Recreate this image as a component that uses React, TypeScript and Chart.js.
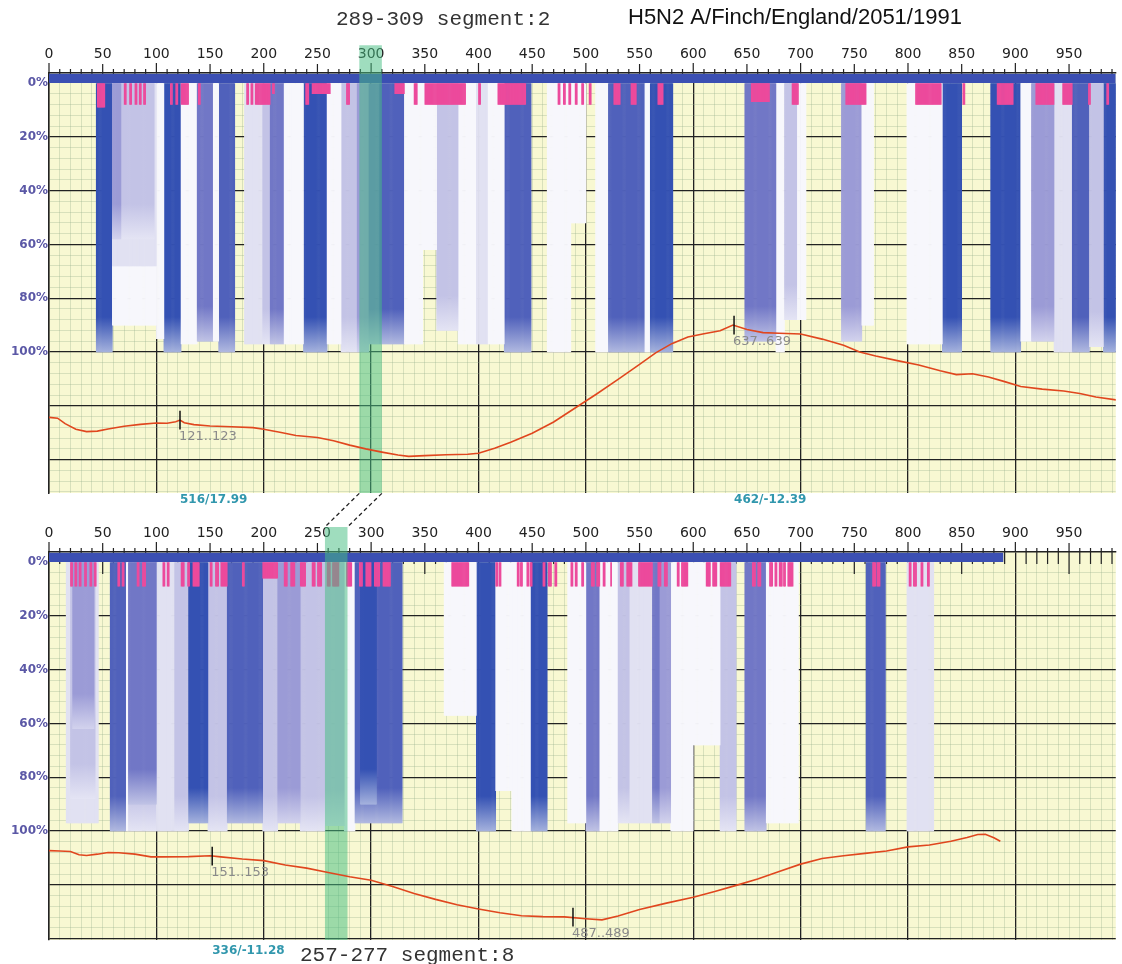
import React, { useEffect, useRef } from 'react';
import { Chart, registerables } from 'chart.js';

Chart.register(...registerables);

// ================= DATA =================
const xTickStep = 10;
const xLabelStep = 50;
const xMajorStep = 100;
const yMinorStep = 4;
const yMajorStep = 20;
const yLabelMax = 100;

// ---------- upper panel ----------
const upperSegmentLabel = '289-309 segment:2';
const strainLabel = 'H5N2 A/Finch/England/2051/1991';
const upperWindow = [289, 309];
const upperSequenceEnd = 994;

const upperBlockStart = [44, 59, 59, 59, 59, 100, 107, 123, 138, 153, 158, 182, 199, 206, 219, 237, 259, 272, 287, 298, 308, 331, 348, 361, 381, 398, 409, 424, 464, 486, 509, 521, 555, 560, 648, 677, 685, 697, 738, 757, 799, 832, 877, 905, 915, 936, 953, 969, 982];
const upperBlockEnd = [59, 100, 100, 98, 67, 107, 123, 138, 153, 158, 173, 199, 206, 219, 237, 259, 272, 287, 298, 308, 331, 348, 361, 381, 398, 409, 424, 449, 486, 500, 521, 555, 560, 581, 677, 685, 697, 705, 757, 768, 832, 850, 905, 915, 936, 953, 969, 982, 994];
const upperBlockDepth = [100, 90, 68, 58, 58, 95, 100, 97, 96, 96, 100, 97, 97, 97, 97, 100, 97, 100, 100, 97, 97, 97, 62, 92, 97, 97, 97, 100, 100, 52, 100, 100, 100, 100, 96, 100, 88, 88, 96, 90, 97, 100, 100, 96, 96, 100, 100, 98, 100];
const upperBlockShade = [0, 6, 5, 4, 3, 6, 0, 6, 2, 6, 1, 5, 4, 2, 6, 0, 6, 4, 3, 2, 1, 6, 6, 4, 6, 5, 6, 1, 6, 6, 6, 1, 6, 0, 2, 6, 4, 6, 3, 6, 6, 0, 0, 6, 3, 5, 1, 4, 0];

const upperPinkStart = [45, 70, 75, 80, 84, 88, 113, 118, 123, 139, 184, 188, 192, 208, 239, 245, 277, 322, 340, 350, 400, 418, 474, 479, 484, 490, 496, 503, 526, 542, 567, 654, 692, 742, 807, 851, 883, 919, 944, 968, 985];
const upperPinkEnd = [52, 72, 77, 82, 86, 90, 115, 120, 130, 141, 186, 190, 206, 210, 242, 262, 280, 331, 343, 388, 402, 444, 476, 481, 486, 492, 498, 505, 532, 547, 572, 671, 698, 761, 831, 853, 898, 936, 953, 970, 987];
const upperPinkDepth = [9, 8, 8, 8, 8, 8, 8, 8, 8, 8, 8, 8, 8, 4, 8, 4, 8, 4, 8, 8, 8, 8, 8, 8, 8, 8, 8, 8, 8, 8, 8, 7, 8, 8, 8, 8, 8, 8, 8, 8, 8];

const upperLineX = [0, 8, 15, 25, 35, 45, 55, 70, 85, 100, 110, 118, 122, 126, 135, 150, 170, 190, 200, 215, 230, 250, 265, 280, 295, 310, 325, 335, 350, 370, 390, 400, 415, 430, 450, 470, 490, 510, 530, 550, 565, 580, 595, 610, 625, 637, 650, 665, 680, 700, 720, 740, 755, 770, 790, 810, 830, 845, 860, 875, 890, 905, 925, 945, 960, 975, 994];
const upperLineY = [124.3, 124.6, 126.6, 128.7, 129.6, 129.4, 128.6, 127.6, 126.9, 126.4, 126.5, 125.9, 125.3, 126.3, 127.0, 127.5, 127.8, 128.1, 128.7, 129.8, 131.0, 131.8, 133.0, 134.6, 136.0, 137.2, 138.3, 138.8, 138.5, 138.2, 138.0, 137.6, 135.8, 133.5, 130.2, 126.0, 120.8, 115.6, 110.2, 104.6, 100.3, 96.9, 94.4, 93.2, 92.1, 90.0, 91.6, 92.8, 93.0, 93.3, 95.2, 97.5, 100.0, 101.5, 103.2, 104.8, 107.0, 108.4, 108.1, 109.3, 111.0, 112.8, 113.8, 114.5, 115.4, 116.7, 117.8];

const upperMarkerPos = [122, 638];
const upperMarkerY = [125.3, 90.0];
const upperMarkerLabel = ['121..123', '637..639'];
const upperScorePos = [122, 638];
const upperScoreLabel = ['516/17.99', '462/-12.39'];

// ---------- lower panel ----------
const lowerSegmentLabel = '257-277 segment:8';
const lowerWindow = [257, 277];
const lowerSequenceEnd = 889;

const lowerBlockStart = [16, 20, 22, 57, 72, 74, 74, 100, 117, 130, 148, 166, 199, 213, 234, 257, 275, 285, 290, 368, 398, 416, 431, 449, 483, 500, 513, 530, 541, 562, 569, 579, 600, 625, 648, 668, 761, 799];
const lowerBlockEnd = [46, 43, 42, 72, 74, 100, 100, 117, 130, 148, 166, 199, 213, 234, 257, 275, 285, 329, 305, 398, 416, 431, 449, 464, 500, 513, 530, 541, 562, 569, 579, 600, 625, 640, 668, 698, 779, 824];
const lowerBlockDepth = [97, 88, 62, 100, 100, 100, 90, 100, 100, 97, 100, 97, 100, 97, 100, 98, 100, 97, 90, 57, 100, 85, 100, 100, 97, 100, 100, 97, 97, 97, 97, 100, 68, 100, 100, 97, 100, 100];
const lowerBlockShade = [5, 4, 3, 1, 6, 4, 2, 5, 4, 0, 4, 1, 4, 3, 4, 4, 6, 1, 0, 6, 0, 6, 6, 0, 6, 2, 6, 4, 5, 2, 3, 6, 6, 4, 2, 6, 1, 5];

const lowerPinkStart = [20, 24, 28, 33, 38, 42, 64, 68, 82, 87, 106, 110, 123, 129, 134, 150, 155, 160, 180, 199, 219, 225, 234, 245, 250, 259, 264, 277, 289, 295, 303, 311, 375, 416, 419, 436, 439, 445, 448, 460, 465, 471, 486, 490, 496, 505, 510, 516, 523, 532, 538, 549, 567, 573, 585, 589, 612, 618, 625, 655, 660, 671, 676, 680, 684, 688, 767, 771, 801, 805, 812, 818];
const lowerPinkEnd = [22, 26, 30, 35, 40, 44, 66, 70, 84, 90, 108, 112, 126, 131, 140, 152, 158, 166, 182, 213, 222, 229, 239, 248, 254, 262, 270, 282, 292, 300, 308, 318, 391, 418, 421, 438, 441, 447, 450, 462, 468, 473, 488, 492, 498, 508, 513, 518, 524, 535, 543, 562, 570, 576, 587, 595, 616, 622, 635, 658, 663, 674, 678, 683, 686, 693, 770, 774, 803, 808, 814, 820];
const lowerPinkDepth = [9, 9, 9, 9, 9, 9, 9, 9, 9, 9, 9, 9, 9, 9, 9, 9, 9, 9, 9, 6, 9, 9, 9, 9, 9, 9, 9, 9, 9, 9, 9, 9, 9, 9, 9, 9, 9, 9, 9, 9, 9, 9, 9, 9, 9, 9, 9, 9, 9, 9, 9, 9, 9, 9, 9, 9, 9, 9, 9, 9, 9, 9, 9, 9, 9, 9, 9, 9, 9, 9, 9, 9];

const lowerLineX = [0, 10, 20, 28, 35, 45, 55, 65, 80, 95, 105, 130, 150, 160, 180, 200, 220, 240, 260, 280, 300, 320, 340, 360, 380, 400, 420, 440, 460, 480, 500, 515, 530, 550, 575, 600, 620, 640, 660, 680, 700, 720, 740, 760, 780, 800, 820, 840, 855, 865, 872, 880, 886];
const lowerLineY = [107.3, 107.4, 107.6, 108.8, 109.1, 108.6, 108.0, 108.1, 108.6, 109.6, 109.6, 109.5, 109.2, 109.6, 110.4, 111.0, 112.6, 113.8, 115.4, 117.0, 118.3, 120.6, 123.2, 125.4, 127.4, 129.0, 130.4, 131.5, 131.8, 131.9, 132.6, 133.0, 131.6, 129.2, 126.8, 124.6, 122.5, 120.2, 117.8, 115.0, 112.3, 110.2, 109.2, 108.3, 107.4, 105.9, 105.2, 103.8, 102.4, 101.3, 101.2, 102.5, 103.8];

const lowerMarkerPos = [152, 488];
const lowerMarkerY = [109.3, 132.0];
const lowerMarkerLabel = ['151..153', '487..489'];
const lowerScorePos = [152];
const lowerScoreLabel = ['336/-11.28'];

// ================= STYLE =================
const SHADES = ['#3451b3', '#5061bb', '#7177c6', '#9b9bd6', '#c3c3e6', '#e1e1f2', '#f7f7fc'];
const PINK = '#ec4a9c';
const STRIP = '#3b4fb3';
const BAND = 'rgba(70,190,130,0.52)';
const LINE = '#e0461e';
const YELLOW = '#f8f8d2';
const MINOR_GRID = 'rgba(150,175,140,0.32)';
const MAJOR_GRID = '#222';
const FADE_SPAN = 13;

const upperLayout = {
  top: 0, height: 512, xMax: 993.5, yMin: -3.7, yMax: 152.4, stripTop: -3.4,
  axisHeight: 73, axisWidth: 49, padBottom: 19, bandTop: -14,
  minorDown: 8, majorDown: 8, scoreOffset: 7,
  segX: 336, segY: 19, strainX: 628, strainY: 18, connectorTop: null, linkWindow: null,
};
const lowerLayout = {
  top: 479, height: 485, xMax: 993.5, yMin: -3.7, yMax: 140.5, stripTop: -3.4,
  axisHeight: 73, axisWidth: 49, padBottom: 24, bandTop: -13,
  minorDown: 12, majorDown: 22, scoreOffset: 11,
  segX: 300, segY: 476, strainX: 0, strainY: 0, connectorTop: -25.5, linkWindow: upperWindow,
};

const upperPanel = {
  segment: upperSegmentLabel, strain: strainLabel, window: upperWindow, seqEnd: upperSequenceEnd,
  blockStart: upperBlockStart, blockEnd: upperBlockEnd, blockDepth: upperBlockDepth, blockShade: upperBlockShade,
  pinkStart: upperPinkStart, pinkEnd: upperPinkEnd, pinkDepth: upperPinkDepth,
  lineX: upperLineX, lineY: upperLineY,
  markerPos: upperMarkerPos, markerY: upperMarkerY, markerLabel: upperMarkerLabel,
  scorePos: upperScorePos, scoreLabel: upperScoreLabel,
};
const lowerPanel = {
  segment: lowerSegmentLabel, strain: '', window: lowerWindow, seqEnd: lowerSequenceEnd,
  blockStart: lowerBlockStart, blockEnd: lowerBlockEnd, blockDepth: lowerBlockDepth, blockShade: lowerBlockShade,
  pinkStart: lowerPinkStart, pinkEnd: lowerPinkEnd, pinkDepth: lowerPinkDepth,
  lineX: lowerLineX, lineY: lowerLineY,
  markerPos: lowerMarkerPos, markerY: lowerMarkerY, markerLabel: lowerMarkerLabel,
  scorePos: lowerScorePos, scoreLabel: lowerScoreLabel,
};

function mixWhite(hex: string, t: number) {
  const n = parseInt(hex.slice(1), 16);
  const r = (n >> 16) & 255, g = (n >> 8) & 255, b = n & 255;
  const m = (c: number) => Math.round(c * (1 - t) + 255 * t);
  return `rgb(${m(r)},${m(g)},${m(b)})`;
}

function buildChart(canvas: HTMLCanvasElement, p: any, L: any) {
  // expand blocks into per-position columns, deepest first so shallower ones sit on top
  const order = p.blockStart.map((_: any, i: number) => i).sort((a: number, b: number) => p.blockDepth[b] - p.blockDepth[a]);
  const blockData: any[] = [];
  const blockOf: number[] = [];
  order.forEach((i: number) => {
    for (let q = p.blockStart[i]; q < p.blockEnd[i]; q++) {
      blockData.push({ x: q + 0.5, y: [0, p.blockDepth[i]] });
      blockOf.push(i);
    }
  });
  const pinkData: any[] = [];
  p.pinkStart.forEach((s: number, i: number) => {
    for (let q = s; q < p.pinkEnd[i]; q++) pinkData.push({ x: q + 0.5, y: [0, p.pinkDepth[i]] });
  });

  const gradCache = new Map<number, any>();
  const blockColor = (ctx: any) => {
    const i = blockOf[ctx.dataIndex];
    if (i === undefined) return SHADES[6];
    const shade = p.blockShade[i];
    const base = SHADES[shade];
    const chart = ctx.chart;
    if (shade >= 5 || !chart.chartArea || !chart.scales.y) return base;
    let g = gradCache.get(i);
    if (!g) {
      const ys = chart.scales.y;
      const depth = p.blockDepth[i];
      const y0 = ys.getPixelForValue(0);
      const y1 = ys.getPixelForValue(depth);
      if (!isFinite(y0) || !isFinite(y1) || y1 === y0) return base;
      g = chart.ctx.createLinearGradient(0, y0, 0, y1);
      g.addColorStop(0, base);
      g.addColorStop(Math.max(0, (depth - FADE_SPAN) / depth), base);
      g.addColorStop(1, mixWhite(base, 0.55));
      gradCache.set(i, g);
    }
    return g;
  };

  const w0 = p.window[0];
  const w1 = p.window[1] + 1;

  const decor = {
    id: 'panelDecor',
    beforeDraw(chart: any) {
      const { ctx, chartArea: a } = chart;
      ctx.save();
      ctx.fillStyle = YELLOW;
      ctx.fillRect(a.left, a.top, a.right - a.left, a.bottom - a.top);
      ctx.restore();
    },
    beforeDatasetsDraw(chart: any) {
      const { ctx, chartArea: a } = chart;
      const xs = chart.scales.x;
      ctx.save();
      ctx.strokeStyle = '#222';
      ctx.lineWidth = 1.2;
      ctx.beginPath();
      for (let v = 0; v <= xs.max; v += xTickStep) {
        const x = xs.getPixelForValue(v);
        let up = 4, down = L.minorDown;
        if (v % xMajorStep === 0) { up = 10; down = 0; }
        else if (v % xLabelStep === 0) { up = 9; down = L.majorDown; }
        ctx.moveTo(x, a.top - up);
        ctx.lineTo(x, a.top + down);
      }
      ctx.stroke();
      ctx.restore();
    },
    afterDatasetsDraw(chart: any) {
      const { ctx } = chart;
      const xs = chart.scales.x, ys = chart.scales.y;
      ctx.save();
      p.markerPos.forEach((m: number, i: number) => {
        const x = xs.getPixelForValue(m);
        const yA = ys.getPixelForValue(p.markerY[i] - 3.5);
        const yB = ys.getPixelForValue(p.markerY[i] + 3.5);
        ctx.strokeStyle = '#111';
        ctx.lineWidth = 1.5;
        ctx.beginPath();
        ctx.moveTo(x, yA);
        ctx.lineTo(x, yB);
        ctx.stroke();
        ctx.fillStyle = '#8a8a8a';
        ctx.font = '13px "DejaVu Sans"';
        ctx.textBaseline = 'top';
        ctx.textAlign = 'left';
        ctx.fillText(p.markerLabel[i], x - 1, yB + 1);
      });
      ctx.restore();
    },
    afterDraw(chart: any) {
      const { ctx, chartArea: a } = chart;
      const xs = chart.scales.x, ys = chart.scales.y;
      ctx.save();
      // score labels
      ctx.font = 'bold 12px "DejaVu Sans"';
      ctx.fillStyle = '#3197ad';
      ctx.textBaseline = 'middle';
      ctx.textAlign = 'left';
      p.scorePos.forEach((s: number, i: number) => {
        ctx.fillText(p.scoreLabel[i], xs.getPixelForValue(s), a.bottom + L.scoreOffset);
      });
      // titles
      ctx.font = '21px "Liberation Mono"';
      ctx.fillStyle = '#333';
      ctx.fillText(p.segment, L.segX, L.segY);
      if (p.strain) {
        ctx.font = '22px "Liberation Sans"';
        ctx.fillStyle = '#111';
        ctx.fillText(p.strain, L.strainX, L.strainY);
      }
      // dashed connectors to the upper window
      if (L.linkWindow) {
        const yT = ys.getPixelForValue(L.connectorTop);
        const yB = ys.getPixelForValue(L.bandTop);
        ctx.strokeStyle = '#222';
        ctx.lineWidth = 1.3;
        ctx.setLineDash([4, 3]);
        ctx.beginPath();
        ctx.moveTo(xs.getPixelForValue(L.linkWindow[0]), yT);
        ctx.lineTo(xs.getPixelForValue(w0), yB);
        ctx.moveTo(xs.getPixelForValue(L.linkWindow[1] + 1), yT);
        ctx.lineTo(xs.getPixelForValue(w1), yB);
        ctx.stroke();
      }
      ctx.restore();
    },
  };

  const config: any = {
    type: 'bar',
    data: {
      datasets: [
        {
          type: 'line', label: 'score', order: 0,
          data: p.lineX.map((x: number, i: number) => ({ x, y: p.lineY[i] })),
          borderColor: LINE, borderWidth: 1.6, pointRadius: 0, tension: 0, fill: false,
        },
        {
          type: 'bar', label: 'window', order: 1, clip: false, inflateAmount: 0,
          data: [{ x: (w0 + w1) / 2, y: [L.bandTop, L.yMax] }],
          backgroundColor: BAND,
          barThickness: (ctx: any) => {
            const s = ctx.chart.scales.x;
            const t = s ? Math.abs(s.getPixelForValue(w1) - s.getPixelForValue(w0)) : NaN;
            return isFinite(t) && t > 0 ? t : 22;
          },
        },
        {
          type: 'bar', label: 'variable sites', order: 2,
          data: pinkData, backgroundColor: PINK,
        },
        {
          type: 'line', label: 'sequence', order: 3,
          data: [{ x: 0, y: L.stripTop }, { x: p.seqEnd, y: L.stripTop }],
          borderWidth: 0, borderColor: STRIP, backgroundColor: STRIP, pointRadius: 0,
          fill: { value: 0 },
        },
        {
          type: 'bar', label: 'coverage', order: 4,
          data: blockData, backgroundColor: blockColor,
        },
      ],
    },
    options: {
      responsive: false,
      maintainAspectRatio: false,
      animation: false,
      devicePixelRatio: 1,
      events: [],
      layout: { padding: { left: 0, right: 0, top: 0, bottom: L.padBottom } },
      datasets: { bar: { grouped: false, barPercentage: 1, categoryPercentage: 1, borderWidth: 0 } },
      plugins: { legend: { display: false }, tooltip: { enabled: false }, title: { display: false } },
      scales: {
        x: {
          type: 'linear', position: 'top', min: 0, max: L.xMax, offset: false,
          afterFit: (s: any) => { s.height = L.axisHeight; },
          grid: {
            offset: false, drawTicks: false,
            color: (c: any) => (c.tick && Math.round(c.tick.value) % xMajorStep === 0 ? MAJOR_GRID : MINOR_GRID),
            lineWidth: (c: any) => (c.tick && Math.round(c.tick.value) % xMajorStep === 0 ? 1.3 : 1),
          },
          border: { display: true, color: '#222', width: 1.5 },
          ticks: {
            stepSize: xTickStep, autoSkip: false, maxRotation: 0, minRotation: 0, includeBounds: false,
            padding: 10, color: '#222', font: { family: '"DejaVu Sans"', size: 14 },
            callback: (v: any) => { const r = Math.round(v); return r % xLabelStep === 0 ? String(r) : ''; },
          },
        },
        y: {
          type: 'linear', reverse: true, min: L.yMin, max: L.yMax,
          afterFit: (s: any) => { s.width = L.axisWidth; },
          grid: {
            drawTicks: false,
            color: (c: any) => {
              const r = Math.round(c.tick ? c.tick.value : -1);
              if (r <= 0) return 'rgba(0,0,0,0)';
              return r % yMajorStep === 0 ? MAJOR_GRID : MINOR_GRID;
            },
            lineWidth: (c: any) => {
              const r = Math.round(c.tick ? c.tick.value : -1);
              return r > 0 && r % yMajorStep === 0 ? 1.3 : 1;
            },
          },
          border: { display: true, color: '#222', width: 1.5 },
          ticks: {
            stepSize: yMinorStep, autoSkip: false, includeBounds: false, padding: 1,
            color: '#5b58a6', font: { family: '"DejaVu Sans"', size: 12, weight: 'bold' },
            callback: (v: any) => {
              const r = Math.round(v);
              return r % yMajorStep === 0 && r >= 0 && r <= yLabelMax ? `${r}%` : '';
            },
          },
        },
      },
    },
    plugins: [decor],
  };
  return new Chart(canvas, config);
}

function PanelChart({ panel, layout }: { panel: any; layout: any }) {
  const ref = useRef<HTMLCanvasElement>(null);
  useEffect(() => {
    if (!ref.current) return;
    const chart = buildChart(ref.current, panel, layout);
    return () => chart.destroy();
  }, [panel, layout]);
  return (
    <canvas
      ref={ref}
      width={1122}
      height={layout.height}
      style={{ position: 'absolute', left: 0, top: layout.top, width: 1122, height: layout.height, display: 'block' }}
    />
  );
}

export default function App() {
  return (
    <div style={{ position: 'absolute', left: 0, top: 0, width: 1122, height: 964, background: '#ffffff', overflow: 'hidden' }}>
      <PanelChart panel={upperPanel} layout={upperLayout} />
      <PanelChart panel={lowerPanel} layout={lowerLayout} />
    </div>
  );
}
